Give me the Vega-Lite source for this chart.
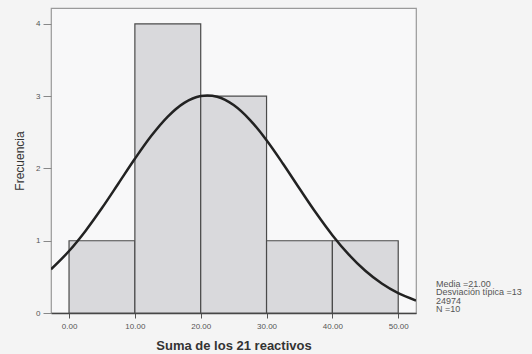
{
  "$schema": "https://vega.github.io/schema/vega-lite/v6.json",
  "width": 365,
  "height": 305,
  "autosize": {"type": "none"},
  "padding": {"left": 51, "top": 8, "right": 116, "bottom": 41},
  "background": "#f4f4f4",
  "config": {
    "view": {"stroke": "#9a9a9a", "strokeWidth": 1.2, "fill": "#f8f8f9"},
    "font": "Liberation Sans"
  },
  "datasets": {
    "bins": [
      {"bin_start": 0, "bin_end": 10, "count": 1},
      {"bin_start": 10, "bin_end": 20, "count": 4},
      {"bin_start": 20, "bin_end": 30, "count": 3},
      {"bin_start": 30, "bin_end": 40, "count": 1},
      {"bin_start": 40, "bin_end": 50, "count": 1}
    ],
    "curve": [
      {"x": -2.74, "y": 0.6046}, {"x": 0, "y": 0.8576}, {"x": 2.5, "y": 1.1361},
      {"x": 5, "y": 1.4522}, {"x": 7.5, "y": 1.7919}, {"x": 10, "y": 2.1333},
      {"x": 12.5, "y": 2.451}, {"x": 15, "y": 2.7175}, {"x": 17.5, "y": 2.9077},
      {"x": 20, "y": 3.0024}, {"x": 21, "y": 3.011}, {"x": 22.5, "y": 2.9918},
      {"x": 25, "y": 2.8769}, {"x": 27.5, "y": 2.6696}, {"x": 30, "y": 2.3908},
      {"x": 32.5, "y": 2.0659}, {"x": 35, "y": 1.7229}, {"x": 37.5, "y": 1.3866},
      {"x": 40, "y": 1.077}, {"x": 42.5, "y": 0.8072}, {"x": 45, "y": 0.5838},
      {"x": 47.5, "y": 0.4075}, {"x": 50, "y": 0.2744}, {"x": 52.7, "y": 0.1721}
    ]
  },
  "layer": [
    {
      "data": {"name": "bins"},
      "mark": {"type": "rect", "fill": "#d9d9dc", "stroke": "#4a4a4a", "strokeWidth": 1.2},
      "encoding": {
        "x": {
          "field": "bin_start", "type": "quantitative",
          "scale": {"domain": [-2.74, 52.7], "nice": false, "zero": false},
          "axis": {
            "values": [0, 10, 20, 30, 40, 50], "format": ".2f",
            "title": "Suma de los 21 reactivos",
            "titleFontSize": 13, "titleFontWeight": "bold", "titleColor": "#333333",
            "titlePadding": 9,
            "labelFontSize": 8, "labelColor": "#555555", "labelPadding": 4,
            "tickSize": 5, "tickColor": "#555555", "domainColor": "#444444",
            "domainWidth": 1.3, "grid": false
          }
        },
        "x2": {"field": "bin_end"},
        "y": {
          "field": "count", "type": "quantitative",
          "scale": {"domain": [0, 4.22], "nice": false},
          "axis": {
            "values": [0, 1, 2, 3, 4], "format": "d", "title": "Frecuencia",
            "titleFontSize": 12, "titleFontWeight": "normal", "titleColor": "#333333",
            "titlePadding": 9,
            "labelFontSize": 8, "labelColor": "#555555", "labelPadding": 3,
            "tickSize": 8, "tickColor": "#888888", "domain": false, "grid": false
          }
        },
        "y2": {"datum": 0}
      }
    },
    {
      "data": {"name": "curve"},
      "mark": {"type": "line", "color": "#222222", "strokeWidth": 2.5, "interpolate": "monotone", "clip": true},
      "encoding": {
        "x": {"field": "x", "type": "quantitative"},
        "y": {"field": "y", "type": "quantitative"}
      }
    },
    {
      "data": {"values": [{"label": ["Media =21.00", "Desviación típica =13", "24974", "N =10"]}]},
      "mark": {"type": "text", "align": "left", "baseline": "top", "fontSize": 9, "lineHeight": 8.5, "color": "#555555"},
      "encoding": {
        "x": {"datum": 55.74},
        "y": {"datum": 0.457},
        "text": {"field": "label"}
      }
    }
  ]
}
